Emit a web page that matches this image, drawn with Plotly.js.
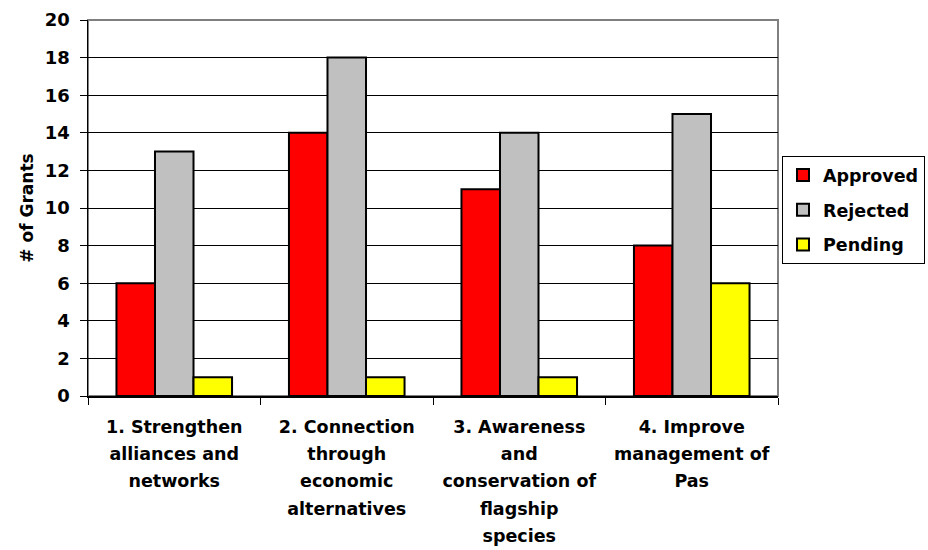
<!DOCTYPE html>
<html>
<head>
<meta charset="utf-8">
<script src="https://cdn.plot.ly/plotly-3.0.1.min.js"></script>
<style>
  html, body { margin: 0; padding: 0; background: #fff; }
  #chart { width: 928px; height: 550px; }
</style>
</head>
<body>
<div id="chart"></div>
<script>
const categoryLines = [
  ["1. Strengthen", "alliances and", "networks"],
  ["2. Connection", "through", "economic", "alternatives"],
  ["3. Awareness", "and", "conservation of", "flagship", "species"],
  ["4. Improve", "management of", "Pas"]
];
const categories = categoryLines.map(l => l.join(" "));
const approved = [6, 14, 11, 8];
const rejected = [13, 18, 14, 15];
const pending = [1, 1, 1, 6];
const seriesNames = ["Approved", "Rejected", "Pending"];
const seriesColors = ["#FF0000", "#C0C0C0", "#FFFF00"];
const yTicks = [0, 2, 4, 6, 8, 10, 12, 14, 16, 18, 20];

const FONT = "DejaVu Sans";
const tickText = categoryLines.map(lines =>
  lines.map(s => '<span style="font-size:17.5px">' + s + '</span>').join("<br>"));

const seriesValues = [approved, rejected, pending];
const traces = seriesValues.map((vals, i) => ({
  type: "bar",
  name: seriesNames[i],
  x: categories,
  y: vals,
  legendgroup: "g" + i,
  marker: { color: seriesColors[i], line: { color: "#000", width: 2 } },
  hoverinfo: "none"
}));

const layout = {
  width: 928,
  height: 550,
  margin: { l: 88, r: 150, t: 20, b: 154, autoexpand: false },
  paper_bgcolor: "#fff",
  plot_bgcolor: "#fff",
  barmode: "group",
  bargap: 0.33,
  bargroupgap: 0,
  font: { family: FONT, color: "#000", size: 17 },
  xaxis: {
    type: "category",
    tickvals: categories,
    ticktext: tickText,
    showline: true, linecolor: "#000", linewidth: 1.5,
    ticks: "outside", tickson: "boundaries", ticklen: 7, tickcolor: "#000", tickwidth: 1,
    tickfont: { family: FONT, size: 21, weight: "bold", color: "#000" },
    ticklabelstandoff: 10,
    showgrid: false, zeroline: false
  },
  yaxis: {
    range: [0, 20],
    tickvals: yTicks,
    ticktext: yTicks.map(String),
    showline: true, linecolor: "#000", linewidth: 1.5,
    ticks: "outside", ticklen: 7, tickcolor: "#000", tickwidth: 1,
    tickfont: { family: FONT, size: 18, weight: "bold", color: "#000" },
    ticklabelstandoff: 6,
    showgrid: true, gridcolor: "#000", gridwidth: 1,
    zeroline: false,
    title: { text: "# of Grants", font: { family: FONT, size: 17, weight: "bold", color: "#000" }, standoff: 7 }
  },
  legend: {
    x: (925 - 88) / 690, xanchor: "right",
    y: 0.638, yanchor: "top",
    bordercolor: "#000", borderwidth: 1,
    bgcolor: "#fff",
    traceorder: "grouped",
    tracegroupgap: 9,
    font: { family: FONT, size: 17.5, weight: "bold", color: "#000" },
    itemwidth: 30
  },
  shapes: [{
    type: "rect", xref: "paper", yref: "paper",
    x0: 0, x1: 1, y0: 0, y1: 1,
    line: { color: "#808080", width: 2 },
    layer: "below"
  }]
};

Plotly.newPlot("chart", traces, layout, { displayModeBar: false, staticPlot: true });
</script>
</body>
</html>
